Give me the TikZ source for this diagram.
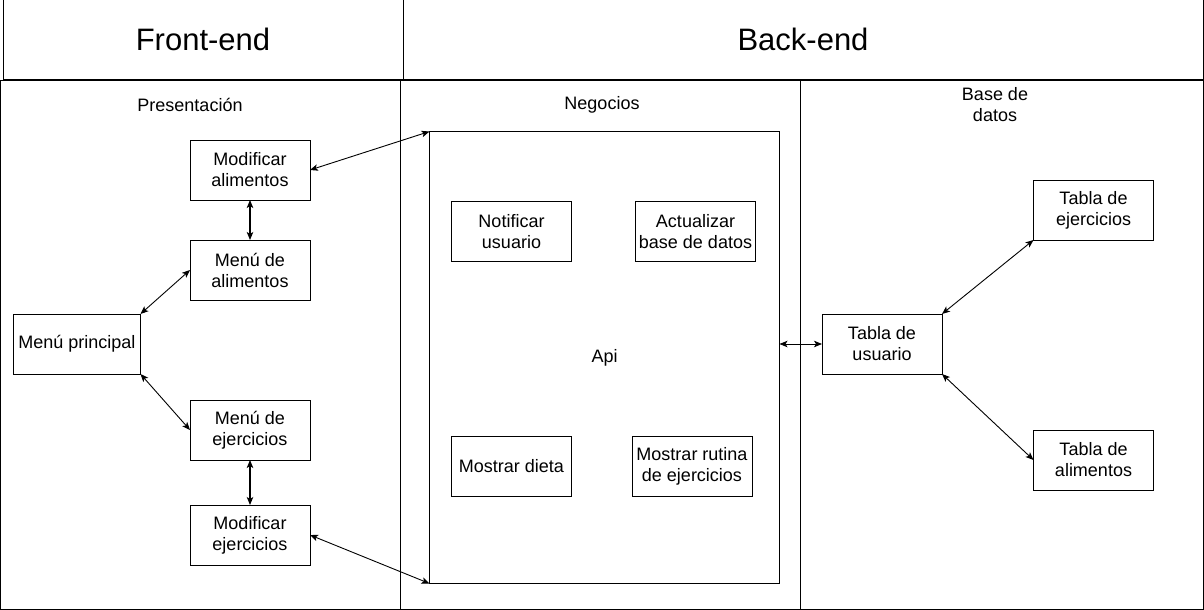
\documentclass[tikz,border=0pt]{standalone}
\usepackage{fontspec}
\setmainfont{Liberation Sans}
\usetikzlibrary{arrows.meta}
\tikzset{
  box/.style={draw=black, line width=1pt, minimum width=120pt, minimum height=60pt,
    inner sep=0pt, outer sep=0pt, align=center, font=\fontsize{18}{21}\selectfont},
  lane/.style={draw=black, line width=1pt},
  lbl/.style={align=center, inner sep=0pt, font=\fontsize{18}{21}\selectfont},
  hdr/.style={draw=black, line width=1pt, inner sep=0pt, outer sep=0pt, font=\fontsize{31}{37}\selectfont},
  link/.style={line width=0.9pt, {Stealth[length=8pt,width=6.5pt,inset=2pt]}-{Stealth[length=8pt,width=6.5pt,inset=2pt]}},
  vlink/.style={link, line width=1.3pt}
}
\begin{document}
\begin{tikzpicture}[x=1pt,y=-1pt]
\useasboundingbox (0,0) rectangle (1204,610);
% header
\node[hdr, minimum width=400pt, minimum height=79pt] (front) at (203,39.5) {Front-end};
\node[hdr, minimum width=800pt, minimum height=79pt] (back) at (803,39.5) {Back-end};
% lanes
\draw[lane] (0.5,80) rectangle (400,609.5);
\draw[lane] (400,80) rectangle (800,609.5);
\draw[lane] (800,80) rectangle (1203.5,609.5);
\node[lbl] (lpres) at (190,105) {Presentación};
\node[lbl] (lneg) at (602,105) {Negocios};
\node[lbl] (lbd) at (995,105) {Base de\\datos};
% api
\node[draw=black, line width=1pt, minimum width=350pt, minimum height=452pt, inner sep=0pt, outer sep=0pt,
  font=\fontsize{18}{21}\selectfont] (api) at (604.5,357.5) {Api};
\node[box] (notif) at (511.5,231.5) {Notificar\\usuario};
\node[box] (actu) at (695.5,231.5) {Actualizar\\base de datos};
\node[box] (dieta) at (511.5,466) {Mostrar dieta};
\node[box] (rutina) at (692,466) {Mostrar rutina\\de ejercicios};
% front
\node[box] (modal) at (250,170) {Modificar\\alimentos};
\node[box] (menal) at (250,270) {Menú de\\alimentos};
\node[box, minimum width=127pt] (menpr) at (77,344) {Menú principal};
\node[box] (menej) at (250,430) {Menú de\\ejercicios};
\node[box] (modej) at (250,535) {Modificar\\ejercicios};
% db
\node[box] (tusu) at (882,344) {Tabla de\\usuario};
\node[box] (tejer) at (1093.5,210) {Tabla de\\ejercicios};
\node[box] (talim) at (1093.5,460) {Tabla de\\alimentos};
% links
\draw[link] (modal.east) -- (api.north west);
\draw[vlink] (modal.south) -- (menal.north);
\draw[link] (menpr.north east) -- (menal.west);
\draw[link] (menpr.south east) -- (menej.west);
\draw[vlink] (menej.south) -- (modej.north);
\draw[link] (modej.east) -- (api.south west);
\draw[link] (api.east |- tusu.west) -- (tusu.west);
\draw[link] (tusu.north east) -- (tejer.south west);
\draw[link] (tusu.south east) -- (talim.west);
\end{tikzpicture}
\end{document}
